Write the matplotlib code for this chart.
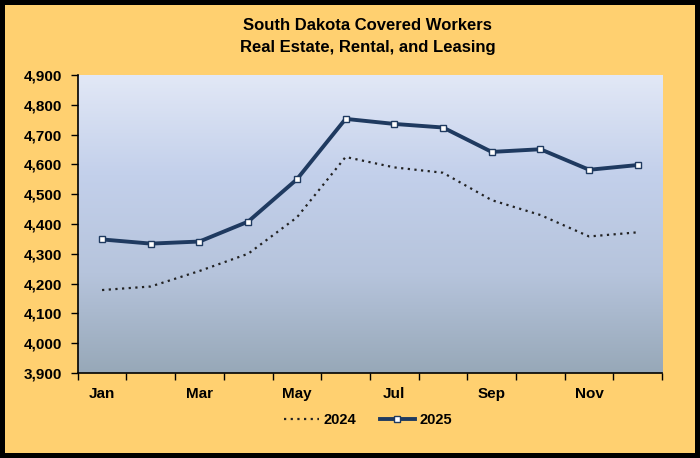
import matplotlib
matplotlib.use('Agg')
import matplotlib.pyplot as plt
from matplotlib.colors import LinearSegmentedColormap
import numpy as np

plt.rcParams['font.family'] = ['Liberation Sans', 'DejaVu Sans']

months = ['Jan', 'Feb', 'Mar', 'Apr', 'May', 'Jun', 'Jul', 'Aug', 'Sep', 'Oct', 'Nov', 'Dec']
y2024 = [4178, 4190, 4242, 4300, 4422, 4625, 4590, 4572, 4480, 4430, 4358, 4372]
y2025 = [4348, 4334, 4341, 4408, 4550, 4753, 4736, 4724, 4642, 4651, 4582, 4598]
yticks = [3900, 4000, 4100, 4200, 4300, 4400, 4500, 4600, 4700, 4800, 4900]

fig = plt.figure(figsize=(7, 4.58), dpi=100)
fig.patch.set_facecolor('#FFD070')
fig.patch.set_edgecolor('black')
fig.patch.set_linewidth(6)

ax = fig.add_axes([0.111, 0.186, 0.835, 0.65])
ax.set_facecolor('none')

# background gradient of the plot area (light at top, grey-blue at bottom)
cmap = LinearSegmentedColormap.from_list('bg', ['#E2E8F6', '#C3D0EB', '#B6C4DC', '#97A8B8'])
grad = np.linspace(0, 1, 256).reshape(-1, 1)
ax.imshow(grad, cmap=cmap, aspect='auto', extent=[0, 1, 0, 1],
          transform=ax.transAxes, zorder=0)

x = np.arange(len(months))
ax.plot(x, y2024, linestyle=(0, (1, 2)), color='#222222', linewidth=1.6, label='2024', zorder=2)
ax.plot(x, y2025, color='#1F3A60', linewidth=2.8, marker='s', markersize=4.5,
        markerfacecolor='white', markeredgecolor='#1F3A60', markeredgewidth=1.0,
        label='2025', zorder=3)

ax.set_xlim(-0.5, 11.5)
ax.set_ylim(3900, 4900)
ax.set_yticks(yticks)
ax.set_yticklabels(['{:,}'.format(v) for v in yticks], fontsize=11, fontweight='bold')

ax.set_xticks(np.arange(-0.5, 12, 1))
ax.set_xticklabels([])
ax.set_xticks(x[::2], minor=True)
ax.set_xticklabels(months[::2], minor=True, fontsize=11, fontweight='bold')
ax.tick_params(axis='x', which='major', direction='out', length=5, width=1)
ax.tick_params(axis='x', which='minor', length=0, pad=10)
ax.tick_params(axis='y', direction='out', length=5, width=1, pad=6)

for s in ['top', 'right']:
    ax.spines[s].set_visible(False)
for s in ['left', 'bottom']:
    ax.spines[s].set_linewidth(1.2)

fig.text(0.525, 0.945, 'South Dakota Covered Workers', ha='center', va='center',
         fontsize=12, fontweight='bold')
fig.text(0.525, 0.897, 'Real Estate, Rental, and Leasing', ha='center', va='center',
         fontsize=12, fontweight='bold')

leg = fig.legend(loc='center', bbox_to_anchor=(0.526, 0.082), ncol=2, frameon=False,
                 prop={'weight': 'bold', 'size': 10.5}, handlelength=2.4, columnspacing=1.6,
                 handletextpad=0.3)

fig.savefig('out.png', dpi=100, facecolor=fig.get_facecolor(), edgecolor='black')
